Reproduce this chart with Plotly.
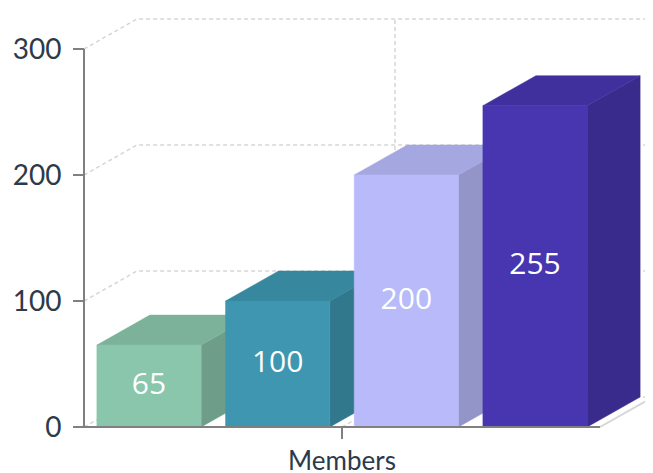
import plotly.graph_objects as go

# ---------------- data ----------------
category = "Members"
series_names = ["Series 1", "Series 2", "Series 3", "Series 4"]
values = [65, 100, 200, 255]
front_colors = ["#8AC6AC", "#3E96B1", "#B8BAFA", "#4836B0"]
y_ticks = [0, 100, 200, 300]

# ---------------- style / layout constants ----------------
PAGE_OFFSET = 8                        # default body margin of the html page
W, H = 653 - PAGE_OFFSET, 473 - PAGE_OFFSET
# target geometry in window pixels
AX_LEFT_PX, AX_RIGHT_PX = 84, 600      # x-axis extent (category -0.5 .. 0.5)
Y0_PX, Y300_PX = 427, 49               # pixel rows of y=0 and y=300
PLOT_L, PLOT_R, PLOT_T, PLOT_B = 78, 653, 8, 445
DEPTH_PX_X, DEPTH_PX_Y = 53, 30        # 3D depth offset in pixels
BARGAP, BARGROUPGAP = 0.0025, 0.19

GRID_COLOR = "#d6d6d6"
AXIS_COLOR = "#808080"
TEXT_COLOR = "#2b3a4c"


def shade(hex_color, f):
    h = hex_color.lstrip("#")
    r, g, b = (int(h[i:i + 2], 16) for i in (0, 2, 4))
    return "rgb({},{},{})".format(int(r * f), int(g * f), int(b * f))


# scale helpers (pixel <-> data units)
px_per_x = (AX_RIGHT_PX - AX_LEFT_PX) / 1.0
px_per_y = (Y0_PX - Y300_PX) / 300.0
x_of_px = lambda p: (p - AX_LEFT_PX) / px_per_x - 0.5
y_of_px = lambda p: (Y0_PX - p) / px_per_y
DX = DEPTH_PX_X / px_per_x
DY = DEPTH_PX_Y / px_per_y

x_range = [x_of_px(PLOT_L), x_of_px(PLOT_R)]
y_range = [y_of_px(PLOT_B), y_of_px(PLOT_T)]

fig = go.Figure()

# ---------------- back / side walls grid ----------------
gx, gy = [], []
for t in y_ticks:
    gx += [-0.5, -0.5 + DX, 0.5 + DX, None]
    gy += [t, t + DY, t + DY, None]
# x gridline (at the category) on floor and back wall
gx += [0, DX, DX, None]
gy += [0, DY, y_ticks[-1] + DY, None]
fig.add_trace(go.Scatter(x=gx, y=gy, mode="lines", hoverinfo="skip",
                         line=dict(color=GRID_COLOR, width=1.5, dash="4px,3px"),
                         showlegend=False))
# floor right edge
fig.add_trace(go.Scatter(x=[0.5, 0.5 + DX], y=[0, DY], mode="lines", hoverinfo="skip",
                         line=dict(color=GRID_COLOR, width=2), showlegend=False))

# ---------------- 3D bars ----------------
n = len(values)
group_w = 1 - BARGAP
slot = group_w / n
for i, (v, c) in enumerate(zip(values, front_colors)):
    center = -group_w / 2 + slot * (i + 0.5)
    half = slot * (1 - BARGROUPGAP) / 2
    xl, xr = center - half, center + half
    top_c, side_c = shade(c, 0.9), shade(c, 0.8)
    # side face
    fig.add_trace(go.Scatter(x=[xr, xr + DX, xr + DX, xr, xr], y=[0, DY, v + DY, v, 0],
                             fill="toself", fillcolor=side_c, mode="lines",
                             line=dict(color=side_c, width=0.5), hoverinfo="skip",
                             showlegend=False))
    # top face
    fig.add_trace(go.Scatter(x=[xl, xl + DX, xr + DX, xr, xl], y=[v, v + DY, v + DY, v, v],
                             fill="toself", fillcolor=top_c, mode="lines",
                             line=dict(color=top_c, width=0.5), hoverinfo="skip",
                             showlegend=False))
    # front face
    fig.add_trace(go.Scatter(x=[xl, xr, xr, xl, xl], y=[0, 0, v, v, 0],
                             fill="toself", fillcolor=c, mode="lines",
                             line=dict(color=c, width=0.5), name=series_names[i],
                             hoveron="fills", text="{}: {}".format(series_names[i], v),
                             hoverinfo="text", showlegend=False))
    # data label
    fig.add_trace(go.Scatter(x=[center], y=[v / 2], mode="text", text=[str(v)],
                             textfont=dict(family="Open Sans", size=30, color="white"),
                             hoverinfo="skip", showlegend=False))

# ---------------- axis lines (drawn on top) ----------------
fig.add_trace(go.Scatter(x=[-0.5, 0.5, None, -0.5, -0.5], y=[0, 0, None, 0, y_ticks[-1]],
                         mode="lines", line=dict(color=AXIS_COLOR, width=2),
                         hoverinfo="skip", showlegend=False))

plot_w = PLOT_R - PLOT_L
plot_h = PLOT_B - PLOT_T
m_l = PLOT_L - PAGE_OFFSET
m_t = PLOT_T - PAGE_OFFSET
m_r = W - (PLOT_R - PAGE_OFFSET)
m_b = H - (PLOT_B - PAGE_OFFSET)

fig.update_layout(
    width=W, height=H,
    margin=dict(l=m_l, r=m_r, t=m_t, b=m_b, pad=0, autoexpand=False),
    paper_bgcolor="white", plot_bgcolor="white",
    xaxis=dict(range=x_range, showgrid=False, zeroline=False, showline=False,
               tickmode="array", tickvals=[0], ticktext=[category],
               ticks="outside", ticklen=11, tickwidth=2, tickcolor=AXIS_COLOR,
               tickfont=dict(family="Lato", size=26, color=TEXT_COLOR),
               anchor="free", position=(PLOT_B - Y0_PX) / plot_h,
               automargin=False, ticklabelstandoff=0, fixedrange=True),
    yaxis=dict(range=y_range, showgrid=False, zeroline=False, showline=False,
               tickmode="array", tickvals=y_ticks,
               ticks="outside", ticklen=11, tickwidth=2, tickcolor=AXIS_COLOR,
               tickfont=dict(family="Lato", size=28, color=TEXT_COLOR),
               anchor="free", position=(AX_LEFT_PX - PLOT_L) / plot_w,
               automargin=False, ticklabelstandoff=6, fixedrange=True),
    showlegend=False,
)

fig.write_html("out.html")
